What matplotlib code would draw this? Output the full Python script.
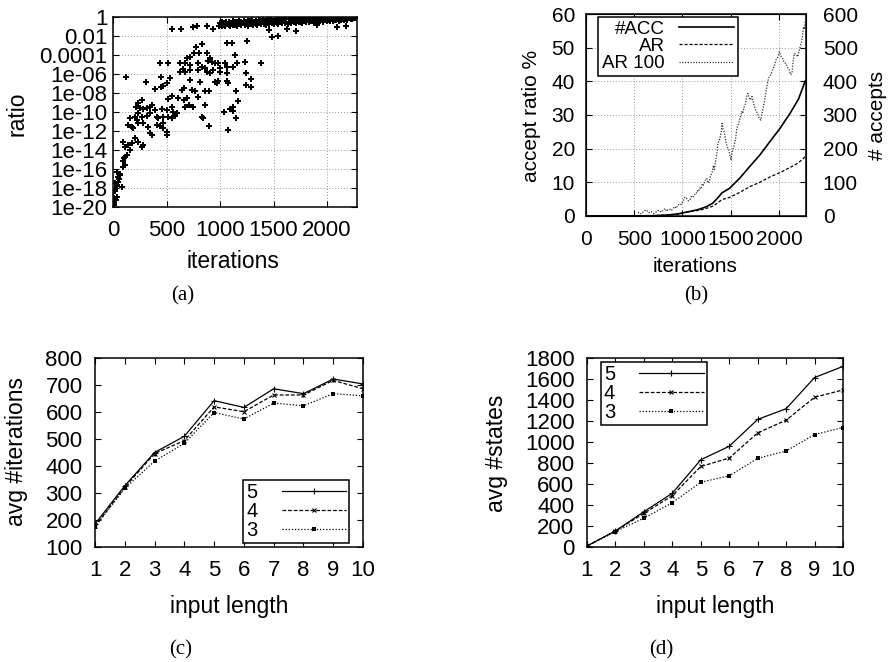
import numpy as np
import matplotlib
matplotlib.use('Agg')
import matplotlib.pyplot as plt
from matplotlib.ticker import FixedLocator, FixedFormatter, MultipleLocator, NullLocator

plt.rcParams['font.family'] = ['Liberation Sans', 'DejaVu Sans']

# (a) ratio per iteration, stored as log10(ratio)
sc_iter = [554, 635, 744, 788, 875, 938, 1062, 1109, 829, 776,
           757, 807, 720, 688, 875, 906, 890, 922, 953, 984,
           1047, 1062, 1000, 626, 673, 720, 797, 829, 860, 651,
           626, 673, 720, 797, 875, 906, 938, 1000, 1062, 439,
           517, 121, 308, 445, 533, 720, 813, 953, 984, 1062,
           1078, 969, 508, 389, 445, 470, 548, 517, 611, 642,
           663, 735, 766, 860, 900, 797, 663, 688, 860, 673,
           713, 751, 1040, 1093, 829, 844, 897, 1078, 268, 237,
           215, 252, 283, 315, 346, 361, 392, 455, 548, 502,
           564, 595, 237, 206, 159, 221, 268, 315, 346, 408,
           424, 470, 517, 548, 579, 143, 174, 190, 237, 283,
           330, 346, 361, 408, 439, 470, 502, 502, 470, 97,
           112, 143, 174, 206, 237, 268, 283, 112, 128, 159,
           97, 112, 34, 50, 65, 19, 34, 50, 19, 3,
           34, 81, 28, 9, 5, 10, 15, 40, 60, 70,
           90, 100, 1255, 1140, 1162, 1233, 1380, 1125, 1240, 1287,
           1243, 1287, 1146, 1171, 1118, 1118, 1146, 1489, 1545, 1461,
           1629, 1710, 1903, 2090, 2177]
sc_exp = [-1.30, -1.30, -1.02, -0.95, -0.91, -1.30, -2.77, -2.70, -2.84, -3.12,
          -3.75, -3.75, -4.18, -4.35, -3.82, -4.35, -4.60, -4.70, -4.88, -4.81,
          -4.88, -5.30, -5.40, -4.81, -4.88, -5.05, -4.88, -5.23, -5.40, -5.51,
          -5.75, -5.75, -5.58, -5.58, -5.75, -5.93, -5.58, -5.75, -5.93, -4.88,
          -4.88, -6.28, -6.81, -6.28, -6.46, -6.63, -6.81, -6.81, -6.70, -6.74,
          -6.91, -6.98, -6.98, -7.58, -7.33, -7.26, -8.32, -8.67, -8.56, -7.68,
          -7.51, -7.68, -7.75, -7.75, -7.75, -8.46, -8.74, -8.56, -9.26, -9.44,
          -9.26, -9.44, -9.96, -9.68, -10.49, -10.67, -11.47, -11.89, -8.74, -9.09,
          -9.44, -9.61, -9.72, -9.61, -9.44, -9.26, -9.79, -9.72, -9.44, -9.79,
          -9.96, -10.14, -10.14, -10.49, -10.67, -10.84, -10.49, -10.42, -10.14, -10.49,
          -10.67, -10.49, -10.56, -10.67, -10.42, -11.37, -11.54, -11.72, -11.19, -11.12,
          -11.54, -12.25, -12.42, -11.37, -11.47, -11.19, -12.07, -12.42, -11.72, -13.12,
          -13.65, -13.47, -13.30, -12.77, -13.12, -13.65, -13.47, -14.70, -14.53, -14.00,
          -15.75, -15.58, -16.28, -16.81, -16.63, -17.51, -17.68, -17.33, -18.21, -18.56,
          -18.91, -17.93, -19.26, -19.54, -19.00, -19.80, -18.30, -17.80, -17.00, -16.50,
          -15.20, -14.80, -2.53, -4.00, -4.80, -4.77, -4.88, -5.30, -5.86, -6.56,
          -7.16, -7.33, -7.79, -8.84, -9.50, -9.86, -10.67, -2.14, -1.96, -1.37,
          -1.30, -1.44, -0.84, -1.02, -0.95]

# dense band near ratio 1 after ~1000 iterations
band_iter = [990, 1005, 1020, 1035, 1050, 1065, 1080, 1095, 1110, 1125,
             1140, 1155, 1170, 1185, 1200, 1215, 1230, 1245, 1260, 1275,
             1290, 1305, 1320, 1335, 1350, 1365, 1380, 1395, 1410, 1425,
             1440, 1455, 1470, 1485, 1500, 1515, 1530, 1545, 1560, 1575,
             1590, 1605, 1620, 1635, 1650, 1665, 1680, 1695, 1710, 1725,
             1740, 1755, 1770, 1785, 1800, 1815, 1830, 1845, 1860, 1875,
             1890, 1905, 1920, 1935, 1950, 1965, 1980, 1995, 2010, 2025,
             2040, 2055, 2070, 2085, 2100, 2115, 2130, 2145, 2160, 2175,
             2190, 2205, 2220, 2235, 2250, 2265, 2275]
band_exp = [-0.95, -0.85, -0.9, -0.8, -0.95, -0.75, -0.85, -0.9, -0.7, -0.85,
            -0.8, -0.9, -0.75, -0.7, -0.85, -0.65, -0.8, -0.7, -0.9, -0.6,
            -0.75, -0.85, -0.65, -0.7, -0.8, -0.6, -0.75, -0.55, -0.7, -0.8,
            -0.6, -0.7, -0.5, -0.65, -0.75, -0.55, -0.6, -0.7, -0.5, -0.65,
            -0.45, -0.6, -0.55, -0.7, -0.5, -0.6, -0.45, -0.55, -0.65, -0.4,
            -0.55, -0.5, -0.6, -0.45, -0.5, -0.35, -0.55, -0.45, -0.4, -0.6,
            -0.35, -0.5, -0.4, -0.45, -0.3, -0.5, -0.35, -0.45, -0.3, -0.4,
            -0.25, -0.45, -0.3, -0.35, -0.2, -0.4, -0.3, -0.25, -0.35, -0.2,
            -0.3, -0.15, -0.25, -0.2, -0.1, -0.15, -0.1]
band2_iter = [1000, 1020, 1040, 1060, 1080, 1100, 1120, 1140, 1160, 1180,
              1200, 1220, 1240, 1260, 1280, 1300, 1320, 1340, 1360, 1380,
              1400, 1420, 1440, 1460, 1480, 1500, 1520, 1540, 1560, 1580,
              1600, 1620, 1640, 1660, 1680, 1700, 1720, 1740, 1760, 1780,
              1800, 1820, 1840, 1860, 1880, 1900, 1920, 1940, 1960, 1980,
              2000, 2020, 2040, 2060, 2080, 2100, 2120, 2140, 2160, 2180,
              2200, 2220, 2240, 2260]
band2_exp = [-0.6, -0.5, -0.65, -0.55, -0.5, -0.6, -0.45, -0.55, -0.5, -0.4,
             -0.55, -0.45, -0.5, -0.4, -0.45, -0.35, -0.5, -0.4, -0.3, -0.45,
             -0.35, -0.4, -0.3, -0.35, -0.25, -0.4, -0.3, -0.2, -0.35, -0.25,
             -0.3, -0.2, -0.25, -0.15, -0.3, -0.2, -0.1, -0.25, -0.15, -0.2,
             -0.1, -0.2, -0.15, -0.05, -0.2, -0.1, -0.15, -0.05, -0.1, -0.2,
             -0.05, -0.1, -0.15, -0.05, -0.1, -0.02, -0.1, -0.05, -0.15, -0.02,
             -0.05, -0.1, -0.02, -0.05]
ratio_ticks = ['1', '0.01', '0.0001', '1e-06', '1e-08', '1e-10',
               '1e-12', '1e-14', '1e-16', '1e-18', '1e-20']

# (b) accept ratio
acc_iter = [0, 500, 700, 850, 950, 1033, 1100, 1173, 1250, 1313, 1360,
            1410, 1487, 1592, 1697, 1801, 1906, 2010, 2115, 2202, 2272]
n_acc = [0, 0, 1, 3, 6, 11, 15, 20, 28, 38, 52,
         69, 82, 112, 147, 181, 221, 260, 305, 347, 401]
ar = [0, 0, 0.1, 0.3, 0.6, 1.1, 1.4, 1.7, 2.3, 2.9, 3.8,
      4.9, 5.5, 7.0, 8.7, 10.0, 11.6, 12.9, 14.4, 15.8, 17.6]
ar100_iter = [540, 560, 580, 600, 624, 650, 677, 700, 720, 740,
              760, 780, 799, 820, 835, 850, 869, 885, 900, 921,
              935, 950, 973, 990, 1008, 1025, 1043, 1060, 1078, 1095,
              1113, 1127, 1140, 1152, 1165, 1178, 1190, 1205, 1218, 1235,
              1252, 1265, 1277, 1290, 1305, 1320, 1330, 1340, 1355, 1368,
              1380, 1392, 1402, 1410, 1418, 1427, 1440, 1451, 1465, 1479,
              1492, 1504, 1512, 1521, 1535, 1549, 1563, 1577, 1590, 1601,
              1615, 1626, 1640, 1654, 1666, 1678, 1692, 1706, 1720, 1741,
              1758, 1776, 1795, 1811, 1820, 1828, 1845, 1863, 1880, 1898,
              1915, 1933, 1950, 1968, 1985, 2003, 2020, 2038, 2055, 2073,
              2090, 2107, 2120, 2135, 2148, 2160, 2178, 2195, 2212, 2230,
              2242, 2254, 2265, 2272]
ar100 = [1.1, 0.6, 0.8, 1.5, 1.8, 1.0, 1.3, 0.7, 1.0, 1.6,
         1.6, 1.1, 1.8, 2.2, 1.4, 1.9, 2.0, 1.6, 2.2, 2.8,
         2.3, 3.2, 3.6, 3.4, 4.6, 5.6, 5.2, 4.5, 4.8, 6.0,
         5.7, 6.4, 6.5, 7.5, 7.2, 8.3, 8.0, 9.6, 9.2, 10.5,
         11.2, 9.8, 10.2, 12.0, 12.7, 15.0, 13.8, 15.6, 18.5, 21.6,
         22.3, 23.6, 25.0, 27.5, 26.0, 25.5, 24.0, 22.0, 20.5, 19.6,
         18.0, 16.6, 18.8, 19.6, 21.0, 22.6, 26.0, 27.0, 28.5, 29.5,
         31.0, 30.5, 32.5, 33.5, 35.5, 36.4, 35.0, 34.5, 35.5, 33.0,
         31.5, 30.5, 29.0, 28.5, 30.0, 31.0, 33.5, 36.4, 39.5, 41.4,
         42.0, 43.4, 44.5, 46.3, 47.0, 48.8, 47.5, 46.8, 45.5, 45.3,
         44.0, 43.4, 42.0, 42.4, 46.5, 48.3, 48.0, 47.3, 49.5, 51.3,
         53.0, 56.2, 55.5, 57.7]

# (c), (d) averages by input length
lengths = [1, 2, 3, 4, 5, 6, 7, 8, 9, 10]
iters_5 = [185, 327, 450, 510, 642, 617, 686, 668, 722, 704]
iters_4 = [177, 321, 446, 494, 619, 601, 663, 663, 717, 686]
iters_3 = [174, 317, 418, 484, 598, 574, 633, 623, 668, 660]
states_5 = [10, 153, 336, 512, 831, 959, 1215, 1317, 1614, 1720]
states_4 = [10, 153, 320, 489, 767, 847, 1087, 1208, 1426, 1496]
states_3 = [8, 147, 275, 422, 617, 678, 844, 914, 1071, 1138]

W, H = 888, 662
fig = plt.figure(figsize=(W / 100, H / 100), dpi=100)


def box(l, t, r, b):
    return [l / W, 1 - b / H, (r - l) / W, (b - t) / H]


def label(x, y, s, size, **kw):
    fig.text(x / W, 1 - y / H, s, ha='center', va='center', fontsize=size, **kw)


def gp_ticks(ax, size, right=True):
    ax.tick_params(direction='in', top=True, right=right, length=4, width=0.8,
                   labelsize=size)
    for s in ax.spines.values():
        s.set_linewidth(1.1)


grid_kw = dict(color='#999999', ls=(0, (1, 2)), lw=0.7)
cap_font = ['Liberation Serif', 'DejaVu Serif']

# ---- (a)
ax = fig.add_axes(box(113, 17, 357, 207))
ax.set_yscale('log')
for xs, ys in [(sc_iter, sc_exp), (band_iter, band_exp), (band2_iter, band2_exp)]:
    ax.plot(xs, 10.0 ** np.array(ys), 'P', ms=5, mew=0, color='black')
ax.set_xlim(0, 2280)
ax.set_ylim(1e-20, 1)
ax.yaxis.set_major_locator(FixedLocator([10.0 ** (-2 * k) for k in range(11)]))
ax.yaxis.set_major_formatter(FixedFormatter(ratio_ticks))
ax.yaxis.set_minor_locator(NullLocator())
ax.xaxis.set_major_locator(MultipleLocator(500))
gp_ticks(ax, 16)
ax.tick_params(axis='x', pad=9)
ax.tick_params(axis='y', pad=4)
ax.grid(True, **grid_kw)
label(17, 114, 'ratio', 16.5, rotation=90)
label(233, 261, 'iterations', 16.5)
label(183, 296, '(a)', 15, family=cap_font)

# ---- (b)
axb = fig.add_axes(box(586, 14, 806, 216))
axr = axb.twinx()
l_ar, = axb.plot(acc_iter, ar, color='black', lw=0.9, ls=(0, (2.5, 1.5)))
l_ar100, = axb.plot(ar100_iter, ar100, color='#333333', lw=0.9, ls=(0, (1, 1.2)))
l_acc, = axr.plot(acc_iter, n_acc, color='black', lw=1.2)
axb.set_xlim(0, 2280)
axb.set_ylim(0, 60)
axr.set_ylim(0, 600)
axb.xaxis.set_major_locator(MultipleLocator(500))
axb.yaxis.set_major_locator(MultipleLocator(10))
axr.yaxis.set_major_locator(MultipleLocator(100))
gp_ticks(axb, 15, right=False)
axr.tick_params(direction='in', length=4, width=0.8, labelsize=15, pad=12)
axb.tick_params(axis='x', pad=10)
axb.tick_params(axis='y', pad=8)
axb.grid(True, **grid_kw)
leg = axr.legend([l_acc, l_ar, l_ar100], ['#ACC', 'AR', 'AR 100'],
                 loc='upper left', bbox_to_anchor=(0.055, 0.985), markerfirst=False,
                 fontsize=13.5, frameon=True, fancybox=False, framealpha=1,
                 edgecolor='black', handlelength=2.9, handletextpad=0.8,
                 labelspacing=0.0, borderpad=0.2, borderaxespad=0)
leg.get_frame().set_linewidth(1.1)
label(531, 116, 'accept ratio %', 15, rotation=90)
label(877, 115, '# accepts', 15, rotation=90)
label(695, 267, 'iterations', 15)
label(696, 296, '(b)', 15, family=cap_font)

# ---- (c) and (d)
styles = [dict(ls='-', marker='+', ms=4, mew=0.8),
          dict(ls=(0, (3, 1.5)), marker='x', ms=3.5, mew=0.8),
          dict(ls=(0, (1, 1.5)), marker='s', ms=2.5, mew=0)]


def length_panel(rect, series, ylim, step, legend_loc, anchor):
    a = fig.add_axes(rect)
    for vals, name, st in zip(series, ['5', '4', '3'], styles):
        a.plot(lengths, vals, color='black', lw=0.9, label=name, **st)
    a.set_xlim(1, 10)
    a.set_ylim(*ylim)
    a.xaxis.set_major_locator(MultipleLocator(1))
    a.yaxis.set_major_locator(MultipleLocator(step))
    gp_ticks(a, 16)
    a.tick_params(axis='x', pad=9)
    a.tick_params(axis='y', pad=9)
    lg = a.legend(loc=legend_loc, bbox_to_anchor=anchor, markerfirst=False,
                  fontsize=14.5, frameon=True, fancybox=False, framealpha=1,
                  edgecolor='black', handlelength=3.2, handletextpad=1.2,
                  labelspacing=0.0, borderpad=0.15, borderaxespad=0)
    lg.get_frame().set_linewidth(1.1)
    return a


length_panel(box(95, 358, 363, 547), [iters_5, iters_4, iters_3], (100, 800), 100,
             'lower right', (0.948, 0.021))
label(16, 452, 'avg #iterations', 16.5, rotation=90)
label(229, 606, 'input length', 16.5)
label(181, 650, '(c)', 15, family=cap_font)

length_panel(box(587, 358, 843, 547), [states_5, states_4, states_3], (0, 1800), 200,
             'upper left', (0.054, 0.980))
label(496, 453, 'avg #states', 16.5, rotation=90)
label(715, 606, 'input length', 16.5)
label(661, 650, '(d)', 15, family=cap_font)

fig.savefig('out.png', dpi=100)
